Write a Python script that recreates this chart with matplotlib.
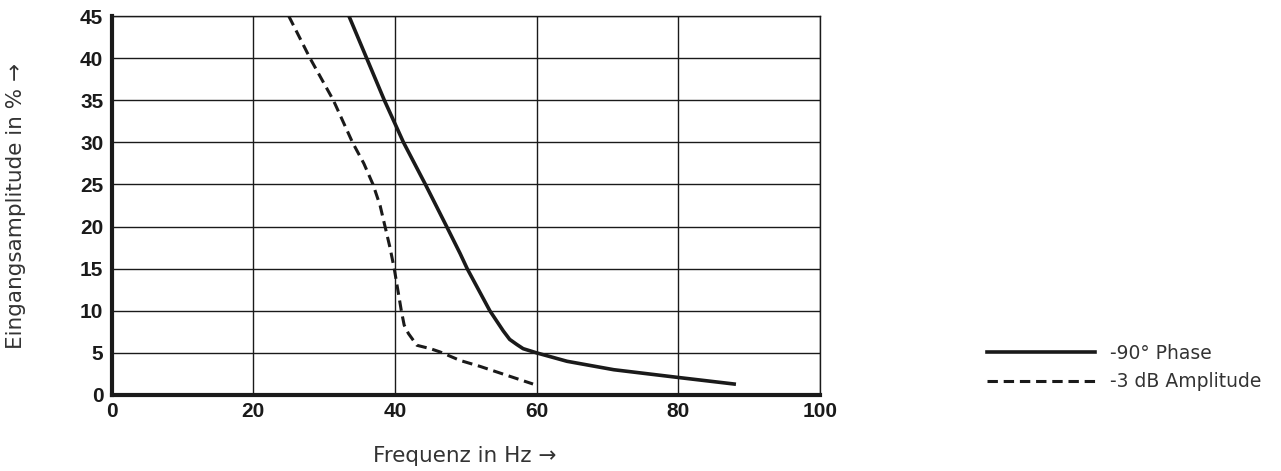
"""Eingangsamplitude vs. Frequenz: -90° Phase and -3 dB amplitude limits."""

import matplotlib
matplotlib.use("Agg")
import matplotlib.pyplot as plt

# --- data -------------------------------------------------------------------
phase_hz = [33.5, 36.0, 38.5, 41.2, 44.3, 47.3, 49.2, 50.2, 53.4, 55.3,
            56.2, 57.2, 58.1, 60.0, 64.3, 70.9, 80.3, 87.9]
phase_pct = [45.0, 40.0, 35.0, 30.0, 25.0, 20.0, 16.8, 15.0, 10.0, 7.6,
             6.6, 6.0, 5.5, 5.0, 4.0, 3.0, 2.05, 1.3]

amp_hz = [25.0, 28.0, 31.3, 34.0, 35.6, 36.9, 37.9, 38.6, 39.3, 39.9,
          40.4, 40.9, 41.3, 41.9, 43.1, 45.0, 46.4, 49.2, 52.0, 59.5]
amp_pct = [45.0, 40.0, 35.0, 30.0, 27.5, 25.0, 22.5, 20.0, 17.5, 15.0,
           12.5, 10.0, 8.3, 7.3, 5.9, 5.5, 5.1, 4.1, 3.4, 1.3]

x_ticks = [0, 20, 40, 60, 80, 100]
y_ticks = [0, 5, 10, 15, 20, 25, 30, 35, 40, 45]

ink = "#1a1a1a"
text_col = "#333333"

fig = plt.figure(figsize=(12.81, 4.71), dpi=100)
ax = fig.add_axes([0.0872, 0.1614, 0.5528, 0.8046])

ax.plot(phase_hz, phase_pct, color=ink, linewidth=2.6,
        solid_joinstyle="round", label="-90° Phase", zorder=3)
ax.plot(amp_hz, amp_pct, color=ink, linewidth=2.2,
        linestyle=(0, (3.4, 1.9)), label="-3 dB Amplitude", zorder=3)

ax.set_xlim(0, 100)
ax.set_ylim(0, 45)
ax.set_xticks(x_ticks)
ax.set_yticks(y_ticks)
ax.grid(True, color=ink, linewidth=1.0)
ax.tick_params(length=0, labelsize=15, colors=ink)
ax.tick_params(axis="y", pad=6)
ax.tick_params(axis="x", pad=5)
for lab in ax.get_xticklabels() + ax.get_yticklabels():
    lab.set_fontweight("bold")
    lab.set_family("Liberation Sans")

for side in ("top", "right"):
    ax.spines[side].set_linewidth(1.0)
    ax.spines[side].set_color(ink)
for side in ("left", "bottom"):
    ax.spines[side].set_linewidth(3.0)
    ax.spines[side].set_color(ink)
    ax.spines[side].set_zorder(4)

fig.text(0.3626, 0.032, "Frequenz in Hz \u2192", ha="center", va="center",
         fontsize=15.5, color=text_col)
fig.text(0.0125, 0.563, "Eingangsamplitude in % \u2192", ha="center",
         va="center", rotation=90, fontsize=15.5, color=text_col)

fig.legend(loc="center left", bbox_to_anchor=(0.757, 0.22),
           frameon=False, fontsize=13.5, handlelength=5.8,
           handletextpad=0.8, labelspacing=0.5, labelcolor=text_col)

fig.savefig("out.png", dpi=100)
